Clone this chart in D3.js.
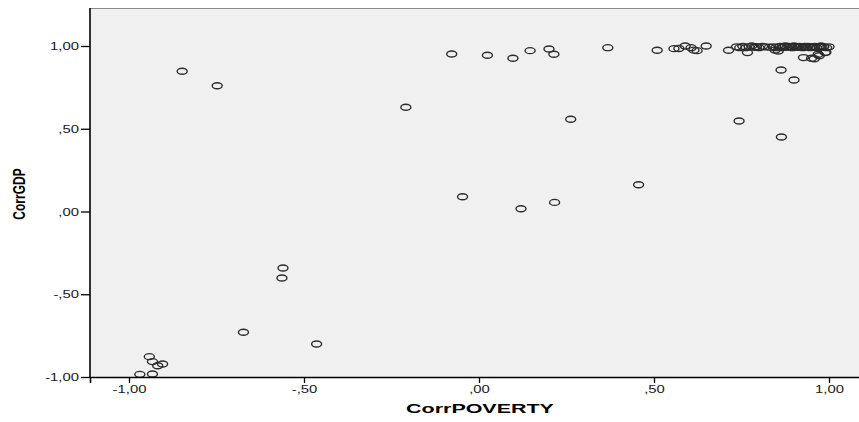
<!DOCTYPE html>
<html>
<head>
<meta charset="utf-8">
<script src="https://cdn.jsdelivr.net/npm/d3@7"></script>
<style>
  body { margin: 0; background: #fff; }
  text { font-family: "Liberation Sans", Arial, sans-serif; }
</style>
</head>
<body>
<div id="container"></div>
<script>
// values
const corrPoverty = [
  -0.969, -0.933, -0.942, -0.933, -0.918, -0.904,
  -0.848, -0.748, -0.673, -0.560, -0.563, -0.464, -0.209,
  -0.078, -0.047, 0.024, 0.097, 0.120, 0.146, 0.200, 0.214, 0.216, 0.262,
  0.368, 0.456, 0.509, 0.557, 0.571, 0.589, 0.606, 0.614, 0.623, 0.649, 0.713,
  0.743, 0.863, 0.900, 0.864,
  0.736, 0.745, 0.754, 0.762, 0.767, 0.772, 0.779, 0.786, 0.793, 0.800,
  0.810, 0.817, 0.830, 0.841, 0.846, 0.848, 0.855, 0.860, 0.865, 0.870,
  0.875, 0.880, 0.885, 0.890, 0.895, 0.900, 0.905, 0.910, 0.915, 0.920,
  0.925, 0.927, 0.930, 0.935, 0.940, 0.946, 0.950, 0.950, 0.955, 0.958,
  0.960, 0.965, 0.969, 0.972, 0.972, 0.977, 0.980, 0.985, 0.989, 0.991,
  0.993, 1.000
];
const corrGdp = [
  -0.984, -0.982, -0.877, -0.907, -0.932, -0.921,
  0.847, 0.760, -0.730, -0.341, -0.402, -0.801, 0.630,
  0.952, 0.089, 0.944, 0.926, 0.017, 0.972, 0.982, 0.950, 0.055, 0.557,
  0.990, 0.162, 0.974, 0.984, 0.985, 1.000, 0.990, 0.975, 0.972, 1.000, 0.974,
  0.547, 0.855, 0.795, 0.450,
  0.995, 0.990, 0.998, 0.990, 0.960, 0.995, 1.000, 0.992, 0.996, 0.990,
  0.998, 0.995, 0.993, 0.995, 0.976, 0.990, 0.970, 0.998, 0.990, 0.995,
  1.000, 0.992, 0.998, 0.995, 0.990, 1.000, 0.996, 0.992, 0.998, 0.994,
  0.990, 0.930, 0.997, 0.993, 0.998, 0.990, 0.995, 0.926, 0.992, 0.923,
  0.998, 0.990, 0.950, 0.995, 0.941, 1.000, 0.993, 0.996, 0.960, 0.962,
  0.990, 0.995
];
const xTicks = [-1, -0.5, 0, 0.5, 1];
const yTicks = [-1, -0.5, 0, 0.5, 1];

const width = 859, height = 422;
const stretch = 1.35;   // the picture is wider than tall, text too

// SPSS style: comma decimal, no leading zero
const fmt = function(d) {
  let s = Math.abs(d).toFixed(2).replace(".", ",");
  if (s.startsWith("0,")) s = s.slice(1);
  return (d < 0 ? "-" : "") + s;
};

const svg = d3.select("#container")
  .append("svg")
  .attr("width", width)
  .attr("height", height);

const scaleX = d3.scaleLinear().domain([-1.1114, 1.1171]).range([90, 870]);
const scaleY = d3.scaleLinear().domain([-1, 1.2296]).range([377, 8]);

// plot area
svg.append("rect")
  .attr("x", scaleX(-1.1114))
  .attr("y", scaleY(1.2296))
  .attr("width", scaleX(1.1171) - scaleX(-1.1114))
  .attr("height", scaleY(-1) - scaleY(1.2296))
  .style("fill", "#f0f0f0");

svg.append("line")
  .attr("x1", 90).attr("x2", 870)
  .attr("y1", 8.5).attr("y2", 8.5)
  .style("stroke", "#8c8c8c");

// points
svg.append("g")
  .selectAll("ellipse")
  .data(corrPoverty)
  .enter()
  .append("ellipse")
  .attr("cx", d => scaleX(d))
  .attr("cy", (d, i) => scaleY(corrGdp[i]))
  .attr("rx", 5)
  .attr("ry", 3)
  .style("fill", "none")
  .style("stroke", "#2b2b2b")
  .style("stroke-width", 1.4);

// axes
const xAxis = d3.axisBottom(scaleX).tickValues(xTicks).tickFormat(fmt).tickSize(6).tickPadding(2);
const gx = svg.append("g")
  .attr("transform", "translate(0,377)")
  .call(xAxis);

const yAxis = d3.axisLeft(scaleY).tickValues(yTicks).tickFormat(fmt).tickSize(9).tickPadding(2);
const gy = svg.append("g")
  .attr("transform", "translate(90,0)")
  .call(yAxis);

[gx, gy].forEach(function(g) {
  g.select(".domain").style("stroke", "#000").style("stroke-width", 1.6);
  g.selectAll(".tick line").style("stroke", "#000").style("stroke-width", 1.3);
  g.selectAll(".tick text")
    .style("font-size", "11px")
    .style("fill", "#1a1a1a")
    .style("font-family", "'Liberation Sans', Arial, sans-serif");
});
gy.select(".domain").attr("d", "M0,8V377");

// titles
svg.append("text")
  .attr("class", "xtitle")
  .attr("x", 480)
  .attr("y", 413)
  .attr("text-anchor", "middle")
  .style("font-size", "13px")
  .style("font-weight", "bold")
  .text("CorrPOVERTY");

svg.append("text")
  .attr("transform", "translate(25,194) scale(1.35,1) rotate(-90)")
  .attr("text-anchor", "middle")
  .style("font-size", "12px")
  .style("font-weight", "bold")
  .text("CorrGDP");

// widen horizontal text like in the picture
svg.selectAll("text").each(function() {
  const t = d3.select(this);
  if ((t.attr("transform") || "").includes("rotate")) return;
  const k = t.classed("xtitle") ? 1.65 : stretch;
  t.attr("textLength", this.getComputedTextLength() * k)
   .attr("lengthAdjust", "spacingAndGlyphs");
});
</script>
</body>
</html>
